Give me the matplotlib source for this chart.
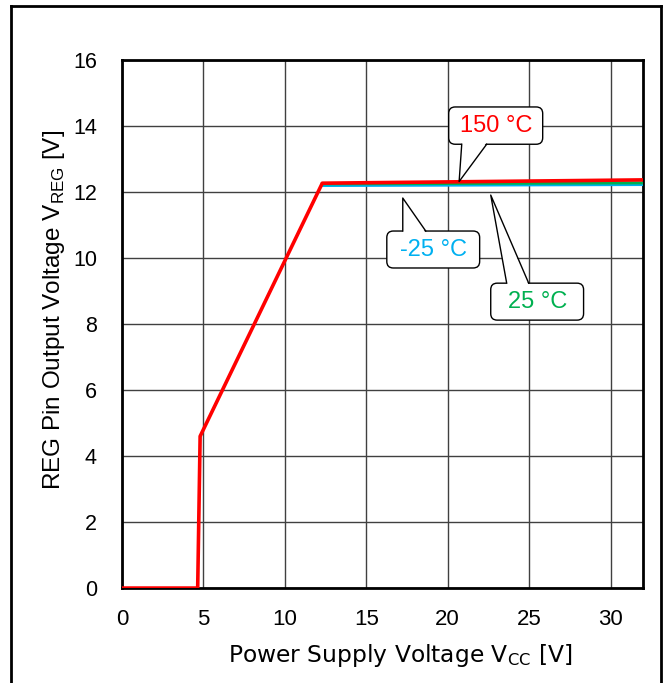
import matplotlib.pyplot as plt
from matplotlib.lines import Line2D
from matplotlib.patches import FancyBboxPatch, Polygon

plt.rcParams["mathtext.fontset"] = "custom"
plt.rcParams["mathtext.rm"] = "Liberation Sans"
plt.rcParams["mathtext.sf"] = "DejaVu Sans"

# Data (Vcc [V] -> Vreg [V])
vcc_rise = [0, 4.65, 4.8, 12.3]
vreg_rise = [0, 0, 4.6, 12.27]

vcc_flat = [12.3, 32]
vreg_m25 = [12.2, 12.23]
vreg_25 = [12.25, 12.28]
vreg_150 = [12.27, 12.37]

x_ticks = [0, 5, 10, 15, 20, 25, 30]
y_ticks = [0, 2, 4, 6, 8, 10, 12, 14, 16]

# callouts: label, colour, box (x0, x1, y0, y1), wedge base x (a, b) on box edge, tip (x, y)
callouts = [
    ("150 °C", "red", (20.06, 25.83, 13.45, 14.58), (20.86, 22.39), (20.7, 12.32)),
    ("-25 °C", "#00b0f0", (16.26, 21.96, 9.7, 10.82), (17.24, 18.65), (17.24, 11.82)),
    ("25 °C", "#00b050", (22.64, 28.34, 8.12, 9.24), (23.62, 24.97), (22.64, 11.91)),
]

fig = plt.figure(figsize=(6.7, 6.83), dpi=100)
ax = fig.add_axes([0.182, 0.139, 0.778, 0.773])

ax.plot(vcc_flat, vreg_m25, color="#00b0f0", lw=2.2, zorder=3)
ax.plot(vcc_flat, vreg_25, color="#00b050", lw=2.2, zorder=3)
ax.plot(vcc_rise + vcc_flat[1:], vreg_rise + vreg_150[1:], color="red", lw=2.6, zorder=4)

ax.set_xlim(0, 32)
ax.set_ylim(0, 16)
ax.set_xticks(x_ticks, [str(v) for v in x_ticks], fontfamily="Liberation Sans", fontsize=16)
ax.set_yticks(y_ticks, [str(v) for v in y_ticks], fontfamily="Liberation Sans", fontsize=15.5)
ax.grid(True, color="#404040", lw=1.0)
ax.tick_params(axis="x", length=0, pad=15)
ax.tick_params(axis="y", length=0, pad=18)
for s in ax.spines.values():
    s.set_linewidth(2)

ax.set_xlabel("Power Supply Voltage V$_\\mathsf{CC}$ [V]", fontsize=16.8,
              family="DejaVu Sans")
ax.set_ylabel("REG Pin Output Voltage V$_\\mathrm{REG}$ [V]", fontsize=17.5,
              family="Liberation Sans")
ax.xaxis.set_label_coords(0.533, -0.103)
ax.yaxis.set_label_coords(-0.106, 0.527)

aspect = 16.3 / 33
for label, col, (x0, x1, y0, y1), (ba, bb), (tx, ty) in callouts:
    ax.add_patch(FancyBboxPatch((x0, y0), x1 - x0, y1 - y0,
                                boxstyle="round,pad=0,rounding_size=0.4",
                                mutation_aspect=aspect, fc="white", ec="black",
                                lw=1, zorder=6))
    edge = y1 if ty > y1 else y0
    inner = edge - 0.06 if edge == y1 else edge + 0.06
    ax.add_patch(Polygon([(ba, inner), (bb, inner), (tx, ty)], closed=True,
                         fc="white", ec="none", zorder=7))
    ax.plot([ba, tx, bb], [edge, ty, edge], color="black", lw=1, zorder=8)
    ax.text((x0 + x1) / 2, (y0 + y1) / 2, label, color=col, fontsize=17,
            family="Liberation Sans", ha="center", va="center", zorder=9)

# outer frame (no bottom edge)
W, H = 670, 683
fig.add_artist(Line2D([11 / W, 11 / W], [0, 1 - 6 / H], color="black", lw=2, transform=fig.transFigure))
fig.add_artist(Line2D([11 / W, 661 / W], [1 - 6 / H, 1 - 6 / H], color="black", lw=2, transform=fig.transFigure))
fig.add_artist(Line2D([661 / W, 661 / W], [0, 1 - 6 / H], color="black", lw=2, transform=fig.transFigure))

fig.savefig("out.png", dpi=100)
